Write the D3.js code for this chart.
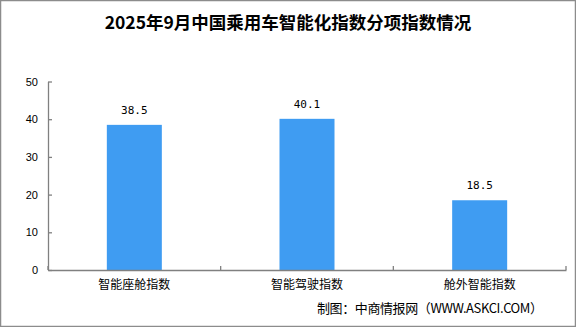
<!DOCTYPE html>
<html>
<head>
<meta charset="utf-8">
<script src="https://cdn.jsdelivr.net/npm/d3@7"></script>
<style>
  body { margin: 0; background: #fff; }
  svg { display: block; }
</style>
</head>
<body>
<div id="chart"></div>
<script>
  const categories = ['智能座舱指数', '智能驾驶指数', '舱外智能指数'];
  const values = [38.5, 40.1, 18.5];
  const yTicks = [0, 10, 20, 30, 40, 50];

  const width = 576;
  const height = 327;
  const margin = { top: 81.5, bottom: 57, left: 48, right: 10 };
  const cjk = '"Noto Sans CJK SC", sans-serif';

  const svg = d3.select('#chart')
    .append('svg')
    .attr('width', width)
    .attr('height', height);

  // frame
  svg.append('rect')
    .attr('x', 0.5).attr('y', 0.5)
    .attr('width', width - 1).attr('height', height - 1)
    .attr('fill', '#fff')
    .attr('stroke', '#8c8c8c')
    .attr('stroke-width', 1.5);

  const x = d3.scaleBand()
    .domain(categories)
    .range([margin.left, width - margin.right]);

  const y = d3.scaleLinear()
    .domain([0, 50])
    .range([height - margin.bottom, margin.top]);

  // bars
  const barW = 55;
  svg.append('g')
    .selectAll('rect')
    .data(values)
    .join('rect')
    .attr('x', (d, i) => x(categories[i]) + x.bandwidth() / 2 - barW / 2)
    .attr('y', d => y(d))
    .attr('width', barW)
    .attr('height', d => y(0) - y(d))
    .attr('fill', '#3f9cf2');

  // value labels
  svg.append('g')
    .selectAll('text')
    .data(values)
    .join('text')
    .attr('x', (d, i) => x(categories[i]) + x.bandwidth() / 2)
    .attr('y', d => y(d) - 11)
    .attr('text-anchor', 'middle')
    .style('font-family', '"DejaVu Sans Mono", monospace')
    .style('font-size', '11px')
    .attr('fill', '#000')
    .text(d => d.toFixed(1));

  // y axis
  const yAxis = svg.append('g')
    .attr('transform', `translate(${margin.left},0)`)
    .call(d3.axisLeft(y).tickValues(yTicks).tickSizeInner(-4).tickSizeOuter(0).tickPadding(10));
  yAxis.selectAll('line, path').attr('stroke', '#808080').attr('stroke-width', 1.3);
  yAxis.selectAll('text')
    .style('font-family', '"Liberation Sans", Arial, sans-serif')
    .style('font-size', '11px')
    .attr('fill', '#000');

  // x axis
  const xAxis = svg.append('g')
    .attr('transform', `translate(0,${y(0)})`)
    .call(d3.axisBottom(x).tickSize(0).tickPadding(10));
  xAxis.selectAll('path').attr('stroke', '#808080').attr('stroke-width', 1.3);
  xAxis.selectAll('text')
    .style('font-family', cjk)
    .style('font-size', '12px')
    .attr('fill', '#000');

  // category separators
  const bounds = categories.map(c => x(c)).concat([x.range()[1]]);
  svg.append('g')
    .selectAll('line')
    .data(bounds)
    .join('line')
    .attr('x1', d => d).attr('x2', d => d)
    .attr('y1', y(0)).attr('y2', y(0) - 4)
    .attr('stroke', '#808080')
    .attr('stroke-width', 1.3);

  // title
  svg.append('text')
    .attr('x', width / 2)
    .attr('y', 29)
    .attr('text-anchor', 'middle')
    .style('font-family', cjk)
    .style('font-weight', 'bold')
    .style('font-size', '17.5px')
    .attr('fill', '#000')
    .text('2025年9月中国乘用车智能化指数分项指数情况');

  // source
  svg.append('text')
    .attr('x', 543)
    .attr('y', 313)
    .attr('text-anchor', 'end')
    .attr('textLength', 226)
    .style('font-family', cjk)
    .style('font-size', '13px')
    .attr('fill', '#000')
    .text('制图：中商情报网（WWW.ASKCI.COM）');
</script>
</body>
</html>
